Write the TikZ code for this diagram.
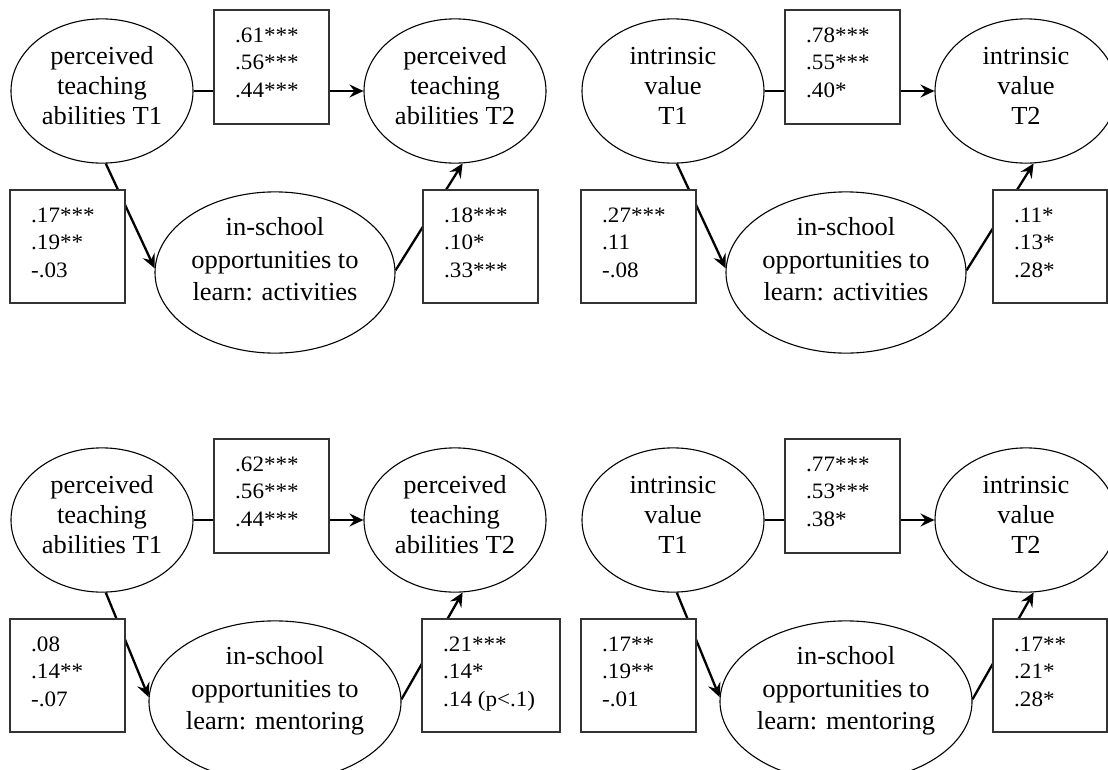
\documentclass[tikz,border=0pt]{standalone}
\usepackage{fontspec}
\setmainfont{Liberation Serif}
\newfontfamily\ellfam{Liberation Serif}[FakeStretch=1.02]
\newfontfamily\numfam{Liberation Serif}[FakeStretch=1.05]
\usetikzlibrary{arrows.meta,shapes.geometric}
\newcommand\ta[3]{\rule{0pt}{24pt}#1\\#2\\#3\rule[-18pt]{0pt}{18pt}}
\newcommand\tc[3]{\rule{0pt}{20pt}#1\\#2\\#3\rule[-29pt]{0pt}{29pt}}
\newcommand\nlines[3]{\vtop{\baselineskip=27.5pt\hbox{#1}\hbox{#2}\hbox{#3}}}
\newcommand\drawpanel[9]{%
  \node[ell,minimum width=182pt,minimum height=140pt] (#1A) at (102,91) {#2};
  \node[ell,minimum width=182pt,minimum height=140pt] (#1B) at (455,91) {#3};
  \node[ell,font={\ellfam\fontsize{26}{32.5}\selectfont},minimum width=240pt,minimum height=139pt] (#1C) at (275,272.5) {#4};
  \draw[conn] (#1A.east) -- (#1B.west);
  \draw[conn] (#1A.-87) -- (#1C.178);
  \draw[conn] (#1C.1) -- (#1B.-84);
  \node[numbox,minimum width=115pt,minimum height=114pt] (#1T) at (271.5,67) {};
  \node[numtxt] (#1t) at (235,42) {#5};
  \node[numbox,minimum width=115pt,minimum height=113pt] (#1L) at (67.5,246.5) {};
  \node[numtxt] (#1l) at (31,222) {#6};
  \node[numbox,minimum width=#9pt,minimum height=113pt] (#1R) at ({#8+#9/2},246.5) {};
  \node[numtxt] (#1r) at ({#8+21},222) {#7};
}
\begin{document}
\begin{tikzpicture}[x=1pt,y=-1pt,
  ell/.style={ellipse,draw=black,line width=1.1pt,inner sep=0pt,align=center,
    font={\ellfam\fontsize{26}{30}\selectfont}},
  numbox/.style={rectangle,draw=black!80,line width=1.4pt,fill=white,inner sep=0pt},
  numtxt/.style={anchor=base west,inner sep=0pt,font={\numfam\fontsize{22}{27.5}\selectfont}},
  conn/.style={line width=2.3pt,-{Stealth[length=14pt,width=13pt,inset=5pt]}}]
\useasboundingbox (0,0) rectangle (1108,769);
\clip (0,0) rectangle (1108,769);
\drawpanel{tl}{\ta{perceived}{teaching}{abilities T1}}{\ta{perceived}{teaching}{abilities T2}}%
  {\tc{in-school}{opportunities to}{learn: activities}}%
  {\nlines{.61***}{.56***}{.44***}}{\nlines{.17***}{.19**}{-.03}}{\nlines{.18***}{.10*}{.33***}}{423}{115}
\begin{scope}[shift={(571,0)}]
\drawpanel{tr}{\ta{intrinsic}{value}{T1}}{\ta{intrinsic}{value}{T2}}%
  {\tc{in-school}{opportunities to}{learn: activities}}%
  {\nlines{.78***}{.55***}{.40*}}{\nlines{.27***}{.11}{-.08}}{\nlines{.11*}{.13*}{.28*}}{422}{114}
\end{scope}
\begin{scope}[shift={(0,429)}]
\drawpanel{bl}{\ta{perceived}{teaching}{abilities T1}}{\ta{perceived}{teaching}{abilities T2}}%
  {\tc{in-school}{opportunities to}{learn: mentoring}}%
  {\nlines{.62***}{.56***}{.44***}}{\nlines{.08}{.14**}{-.07}}{\nlines{.21***}{.14*}{.14 (p<.1)}}{422}{138}
\end{scope}
\begin{scope}[shift={(571,429)}]
\drawpanel{br}{\ta{intrinsic}{value}{T1}}{\ta{intrinsic}{value}{T2}}%
  {\tc{in-school}{opportunities to}{learn: mentoring}}%
  {\nlines{.77***}{.53***}{.38*}}{\nlines{.17**}{.19**}{-.01}}{\nlines{.17**}{.21*}{.28*}}{422}{114}
\end{scope}
\end{tikzpicture}
\end{document}
